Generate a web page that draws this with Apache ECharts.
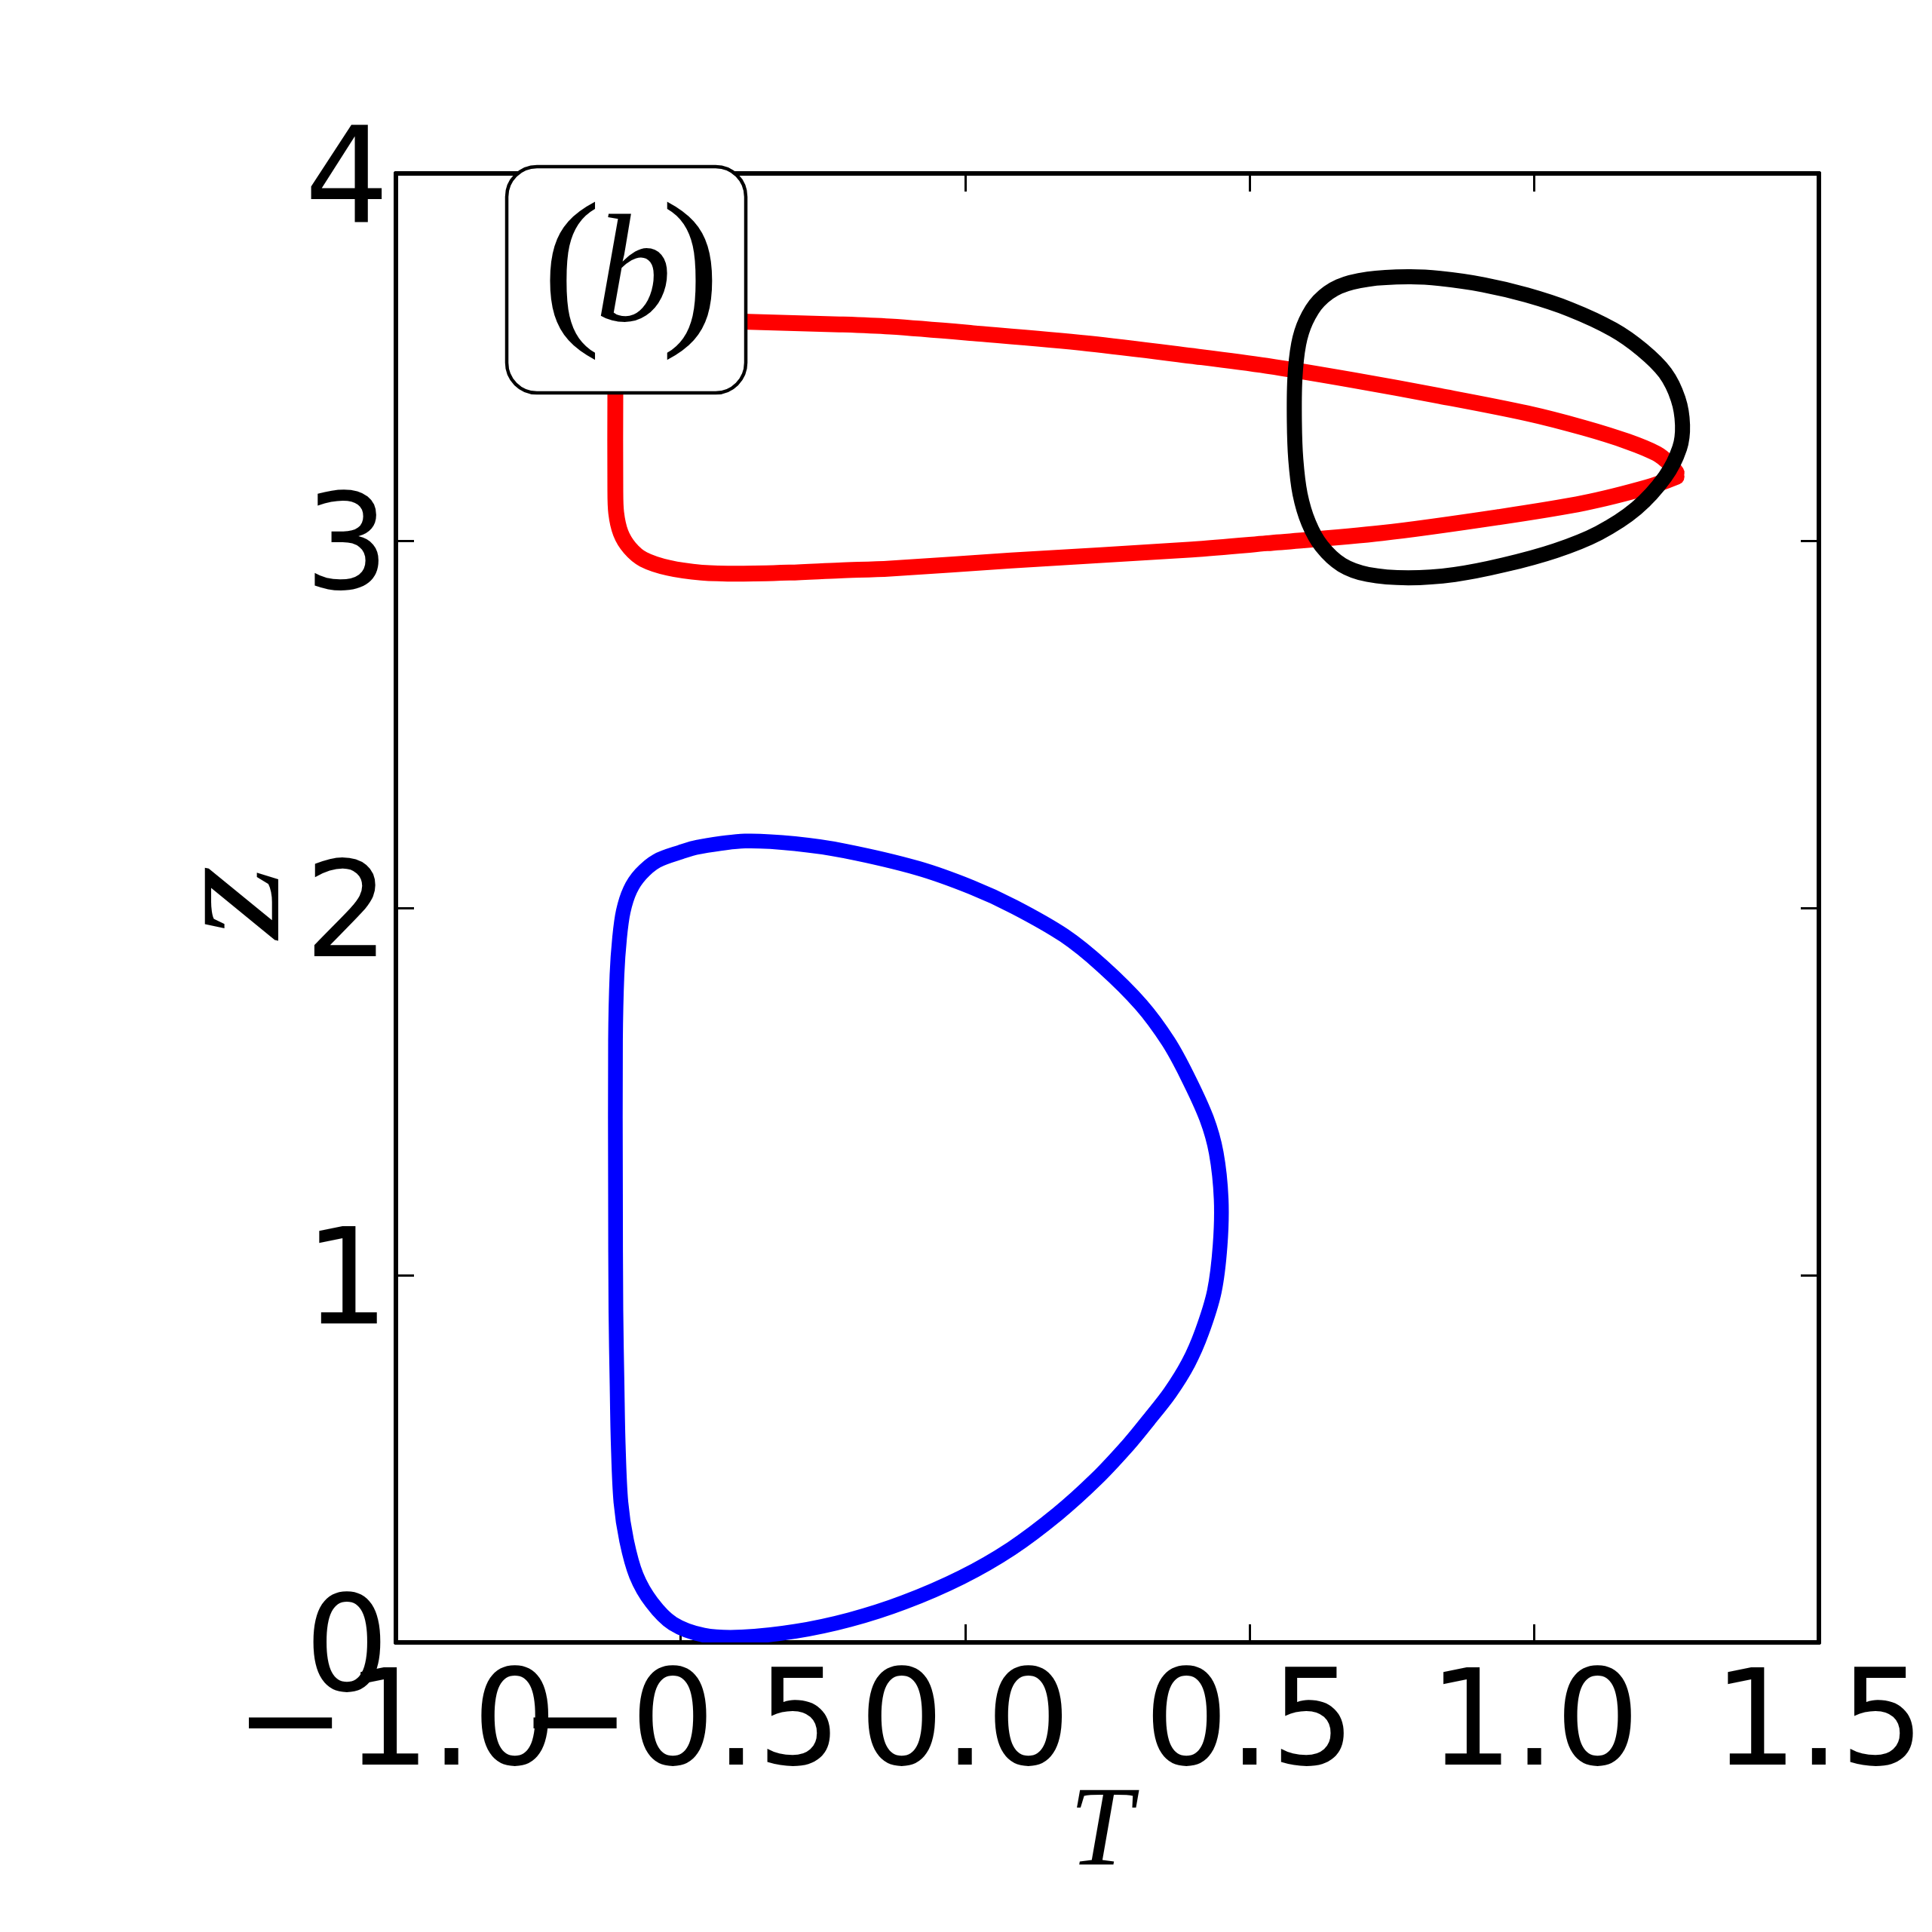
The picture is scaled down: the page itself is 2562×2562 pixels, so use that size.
<!DOCTYPE html>
<html>
<head>
<meta charset="utf-8">
<script src="https://cdn.jsdelivr.net/npm/echarts@6/dist/echarts.min.js"></script>
<style>html,body{margin:0;padding:0;background:#fff}#c{width:2562px;height:2562px}</style>
</head>
<body>
<div id="c"></div>
<script>
// ---- data ----
var xTickLabels = ['\u22121.0', '\u22120.5', '0.0', '0.5', '1.0', '1.5'];
var yTickLabels = ['0', '1', '2', '3', '4'];

// closed loop (last point joins the first)
var blueT = [-0.6142, -0.6142, -0.6116, -0.6070, -0.6005, -0.5884, -0.5698, -0.5419, -0.5000, -0.4681, -0.3868, -0.2990, -0.2112, -0.0828, 0.0119, 0.0863, 0.1741, 0.2416, 0.3094, 0.3567, 0.3904, 0.4242, 0.4412, 0.4499, 0.4480, 0.4378, 0.4160, 0.3920, 0.3600, 0.3230, 0.2870, 0.2301, 0.1625, 0.0814, -0.0065, -0.1078, -0.2026, -0.2972, -0.3918, -0.4593, -0.5135, -0.5506, -0.5776, -0.5946, -0.6047, -0.6094, -0.6114, -0.6135];
var blueZ = [1.2195, 1.6386, 1.818, 1.919, 1.991, 2.049, 2.092, 2.128, 2.152, 2.166, 2.182, 2.175, 2.155, 2.108, 2.056, 2.003, 1.925, 1.841, 1.736, 1.637, 1.542, 1.427, 1.333, 1.207, 1.081, 0.9555, 0.845, 0.760, 0.680, 0.6066, 0.5386, 0.4444, 0.3499, 0.2556, 0.1772, 0.1090, 0.0618, 0.0304, 0.0148, 0.0199, 0.0513, 0.1090, 0.1823, 0.2766, 0.3815, 0.5386, 0.6957, 0.9053];

// open curve, both ends at the right-hand tip
var redT = [1.250, 1.200, 1.088, 0.936, 0.733, 0.530, 0.398, 0.081, -0.132, -0.221, -0.309, -0.397, -0.463, -0.521, -0.565, -0.589, -0.605, -0.613, -0.6145, -0.6145, -0.614, -0.600, -0.550, -0.470, -0.380, -0.221, -0.132, 0.014, 0.216, 0.398, 0.530, 0.682, 0.834, 0.987, 1.088, 1.164, 1.215, 1.238, 1.250];
var redZ = [3.174, 3.146, 3.103, 3.064, 3.021, 2.993, 2.976, 2.946, 2.924, 2.919, 2.913, 2.910, 2.913, 2.926, 2.949, 2.980, 3.021, 3.076, 3.144, 3.398, 3.500, 3.590, 3.612, 3.603, 3.596, 3.589, 3.583, 3.565, 3.537, 3.503, 3.476, 3.437, 3.394, 3.347, 3.307, 3.270, 3.237, 3.209, 3.185];

// closed loop
var blackT = [0.7787, 0.7078, 0.6570, 0.6215, 0.5987, 0.5860, 0.5794, 0.5785, 0.5810, 0.5885, 0.6037, 0.6265, 0.6620, 0.7078, 0.7787, 0.8600, 0.9460, 1.0373, 1.1133, 1.1793, 1.2299, 1.2553, 1.2604, 1.2527, 1.2299, 1.1893, 1.1386, 1.0626, 0.9865, 0.9105, 0.8344];
var blackZ = [3.7185, 3.712, 3.692, 3.653, 3.598, 3.535, 3.441, 3.323, 3.221, 3.127, 3.048, 2.985, 2.934, 2.908, 2.899, 2.908, 2.934, 2.973, 3.021, 3.088, 3.174, 3.252, 3.315, 3.386, 3.457, 3.520, 3.575, 3.630, 3.669, 3.697, 3.714];

var xMin = -1.0, xMax = 1.5, xStep = 0.5;
var yMin = 0, yMax = 4, yStep = 1;

function pairs(a, b) { return a.map(function (v, i) { return [v, b[i]]; }); }

var chart = echarts.init(document.getElementById('c'), null, { renderer: 'canvas' });

var lineAx = { show: true, onZero: false, lineStyle: { color: '#000', width: 6 } };
var tickAx = { show: true, inside: true, length: 24, lineStyle: { color: '#000', width: 3 } };
var tickFont = { fontSize: 176, fontFamily: 'DejaVu Sans', color: '#000' };

function xLabelFmt(onlyIdx) {
  return function (v) {
    var i = Math.round((v - xMin) / xStep);
    if (onlyIdx === null) return i === 1 ? '' : xTickLabels[i];
    return i === onlyIdx ? xTickLabels[i] : '';
  };
}
function xAxisDef(pos, showLabel, showLine, fmt) {
  return {
    type: 'value', position: pos, min: xMin, max: xMax, interval: xStep,
    axisLine: showLine ? lineAx : { show: false, onZero: false },
    axisTick: showLine ? tickAx : { show: false },
    splitLine: { show: false },
    axisLabel: Object.assign({
      show: showLabel, margin: 28, showMinLabel: true, showMaxLabel: true, hideOverlap: false,
      formatter: fmt
    }, tickFont)
  };
}
function yAxisDef(pos, showLabel) {
  return {
    type: 'value', position: pos, min: yMin, max: yMax, interval: yStep,
    axisLine: lineAx, axisTick: tickAx, splitLine: { show: false },
    axisLabel: Object.assign({
      show: showLabel, margin: 9,
      showMinLabel: true, showMaxLabel: true, hideOverlap: false,
      formatter: function (v) { return '{v|' + yTickLabels[Math.round((v - yMin) / yStep)] + '}'; },
      rich: { v: { fontSize: 176, fontFamily: 'DejaVu Sans', color: '#000', padding: [36, 0, 0, 0] } }
    }, tickFont)
  };
}

// custom series: one smooth path through all points, positioned by the cartesian axes
function curve(name, t, z, color, width, closed) {
  var data = pairs(t, z);
  return {
    name: name, type: 'custom', coordinateSystem: 'cartesian2d', xAxisIndex: 0, yAxisIndex: 0,
    data: data, clip: true, silent: true, animation: false,
    encode: { x: 0, y: 1 },
    renderItem: function (params, api) {
      if (params.dataIndex !== 0) return null;
      var pts = data.map(function (d) { return api.coord(d); });
      return {
        type: closed ? 'polygon' : 'polyline',
        shape: { points: pts, smooth: 0.33 },
        style: { fill: null, stroke: color, lineWidth: width, lineCap: 'round', lineJoin: 'round' }
      };
    }
  };
}

chart.setOption({
  animation: false,
  backgroundColor: '#fff',
  grid: { left: 525, top: 230, width: 1887, height: 1948, containLabel: false },
  xAxis: [
    xAxisDef('bottom', true, true, xLabelFmt(null)),
    xAxisDef('top', false, true, xLabelFmt(null)),
    xAxisDef('bottom', true, false, xLabelFmt(1))
  ],
  yAxis: [yAxisDef('left', true), yAxisDef('right', false)],
  series: [
    curve('blue', blueT, blueZ, '#0000ff', 19.5, true),
    curve('red', redT, redZ, '#ff0000', 21, false),
    curve('black', blackT, blackZ, '#000000', 20, true)
  ],
  graphic: [
    { type: 'rect', z: 100, shape: { x: 672, y: 221, width: 317, height: 300, r: 40 },
      style: { fill: '#fff', stroke: '#000', lineWidth: 4.5 } },
    { type: 'text', z: 101, x: 758, y: 367,
      style: { text: '(', fontSize: 232, fontFamily: 'Liberation Serif', fill: '#000', align: 'center', verticalAlign: 'middle' } },
    { type: 'text', z: 101, x: 840, y: 372,
      style: { text: 'b', fontSize: 203, fontStyle: 'italic', fontFamily: 'Liberation Serif', fill: '#000', align: 'center', verticalAlign: 'middle' } },
    { type: 'text', z: 101, x: 916, y: 367,
      style: { text: ')', fontSize: 232, fontFamily: 'Liberation Serif', fill: '#000', align: 'center', verticalAlign: 'middle' } },
    { type: 'text', z: 101, x: 1460, y: 2433,
      style: { text: 'T', fontSize: 150, fontStyle: 'italic', fontFamily: 'Liberation Serif', fill: '#000', align: 'center', verticalAlign: 'middle' } },
    { type: 'text', z: 101, x: 313, y: 1196, rotation: Math.PI / 2, scaleX: 1.18,
      style: { text: 'z', fontSize: 212, fontStyle: 'italic', fontFamily: 'Liberation Serif', fill: '#000', align: 'center', verticalAlign: 'middle' } }
  ]
});
</script>
</body>
</html>
